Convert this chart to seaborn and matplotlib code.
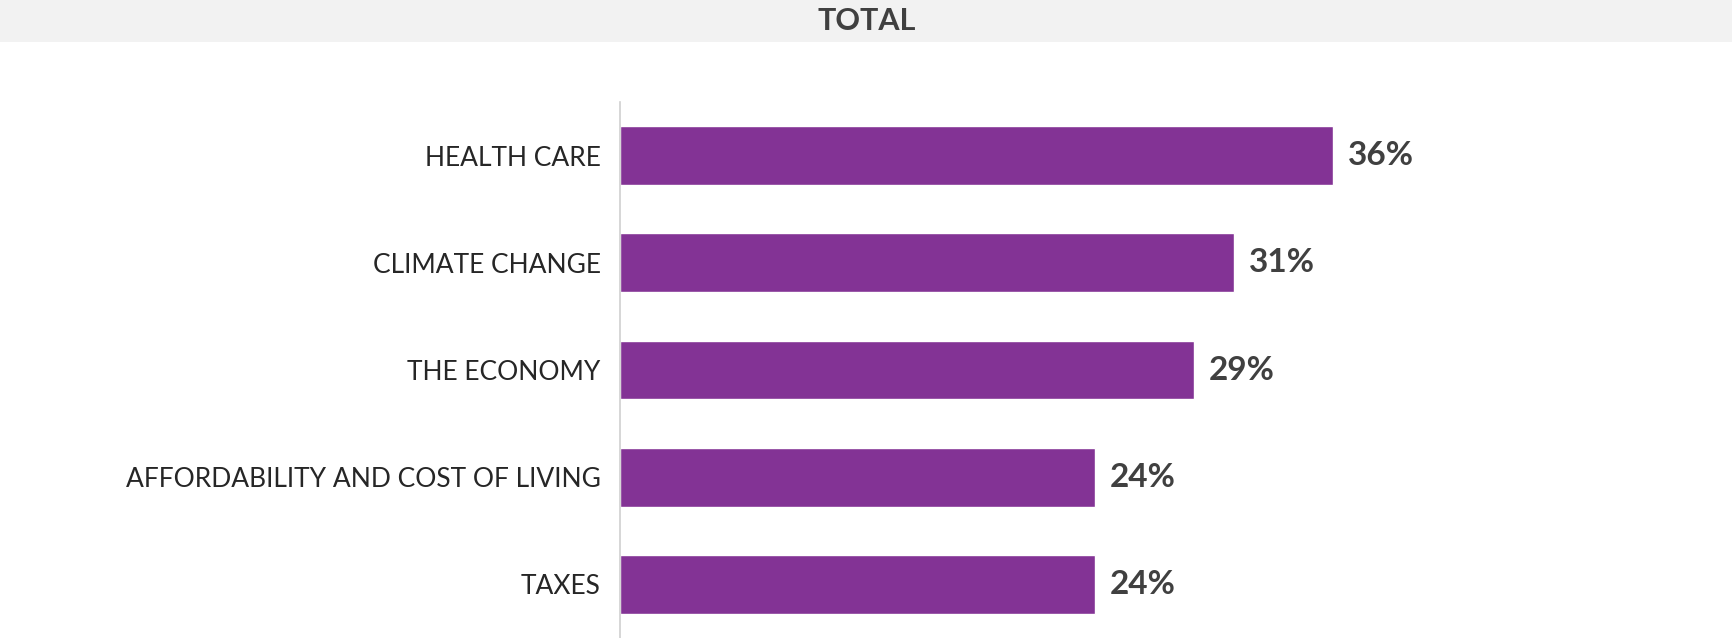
import matplotlib
matplotlib.use("Agg")

import pandas as pd
import matplotlib.pyplot as plt
import seaborn as sns

# =============================================================================
# DATA
# =============================================================================

categories = [
    "HEALTH CARE",
    "CLIMATE CHANGE",
    "THE ECONOMY",
    "AFFORDABILITY AND COST OF LIVING",
    "TAXES",
]
values = [36, 31, 29, 24, 24]
title = "TOTAL"

BAR_COLOR = "#833395"
TEXT_COLOR = "#404040"

df = pd.DataFrame({"issue": categories, "pct": values})

# =============================================================================
# PLOT
# =============================================================================

sns.set_style("white")
plt.rcParams["font.family"] = ["Lato", "DejaVu Sans"]

fig = plt.figure(figsize=(17.33, 6.38), dpi=100)

# grey title band
band = fig.add_axes([0, 1 - 42 / 638, 1, 42 / 638])
band.set_facecolor("#f2f2f2")
band.set_xticks([])
band.set_yticks([])
for s in band.spines.values():
    s.set_visible(False)
band.text(0.5, 0.5, title, ha="center", va="center",
          fontsize=22, fontweight="bold", color=TEXT_COLOR)

ax = fig.add_axes([620 / 1733, 0, 1 - 620 / 1733, 536 / 638])

sns.barplot(
    data=df,
    x="pct",
    y="issue",
    orient="h",
    color=BAR_COLOR,
    width=0.55,
    saturation=1,
    ax=ax,
)

ax.set_xlim(0, 56.2)
ax.set_ylim(4.5, -0.5)
ax.set_xlabel("")
ax.set_ylabel("")
ax.set_xticks([])

for s in ["top", "right", "bottom"]:
    ax.spines[s].set_visible(False)
ax.spines["left"].set_color("#d0d0d0")
ax.spines["left"].set_linewidth(1.2)

ax.tick_params(axis="y", length=0, pad=14, labelsize=19, labelcolor="#262626")

for i, v in enumerate(values):
    ax.text(v + 0.75, i, f"{v}%", ha="left", va="center",
            fontsize=24, fontweight="bold", color=TEXT_COLOR)

fig.savefig("out.png", dpi=100)
plt.close(fig)
